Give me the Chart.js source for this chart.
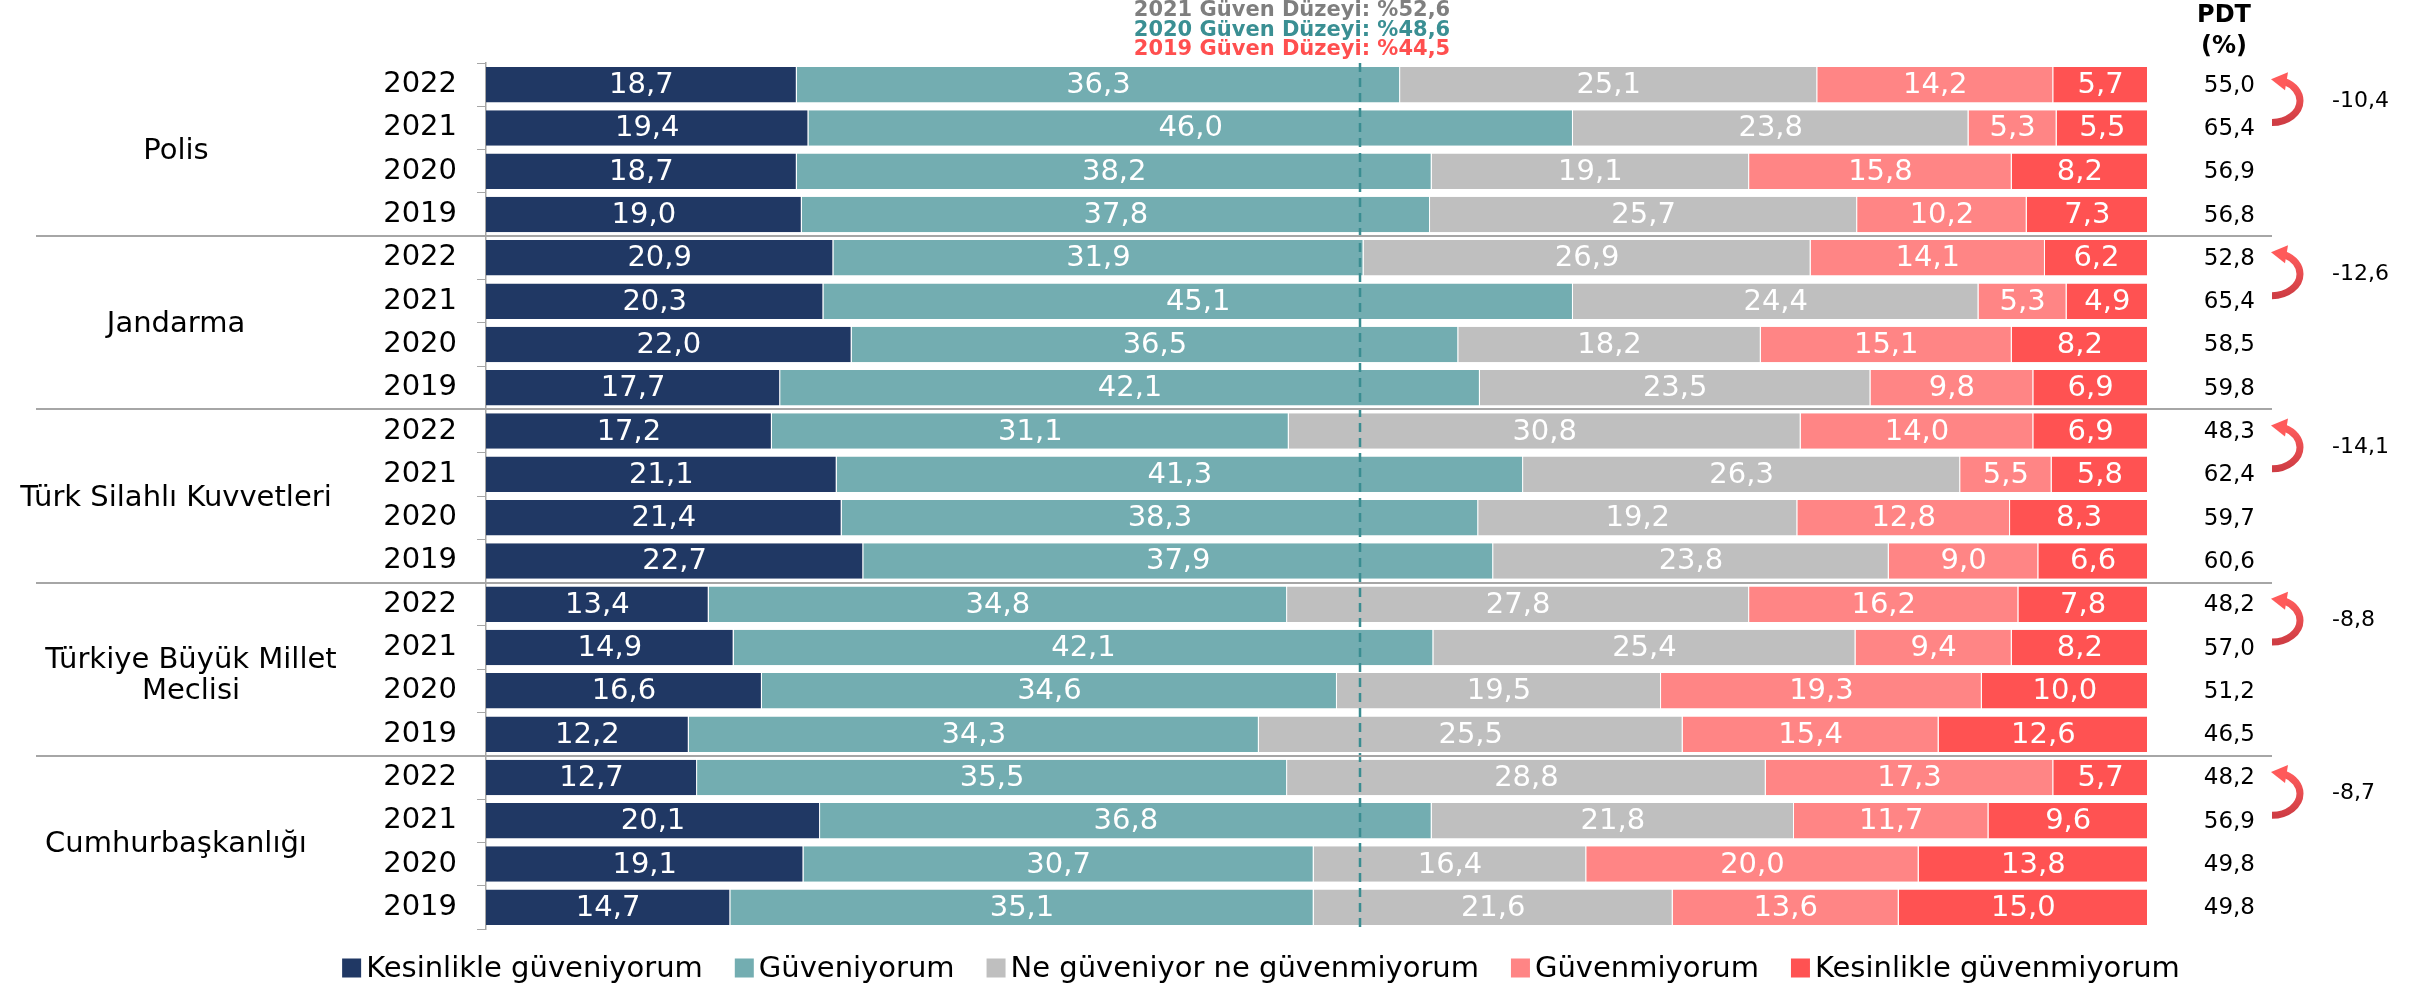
<!DOCTYPE html>
<html>
<head>
<meta charset="utf-8">
<title>Kurumlara güven</title>
<script src="https://cdn.jsdelivr.net/npm/chart.js@4.4.0/dist/chart.umd.min.js"></script>
<style>
  body { margin: 0; background: #fff; }
  #wrap { width: 2417px; height: 986px; }
</style>
</head>
<body>
<div id="wrap"><canvas id="bar-chart" width="2417" height="986"></canvas></div>
<script>
var groups = ["Polis", "Jandarma", "Türk Silahlı Kuvvetleri", ["Türkiye Büyük Millet", "Meclisi"], "Cumhurbaşkanlığı"];
var years = ["2022", "2021", "2020", "2019"];

// one value per row, top to bottom: each group 2022 -> 2019
var kesinlikleGuveniyorum = [18.7, 19.4, 18.7, 19.0, 20.9, 20.3, 22.0, 17.7, 17.2, 21.1, 21.4, 22.7, 13.4, 14.9, 16.6, 12.2, 12.7, 20.1, 19.1, 14.7];
var guveniyorum = [36.3, 46.0, 38.2, 37.8, 31.9, 45.1, 36.5, 42.1, 31.1, 41.3, 38.3, 37.9, 34.8, 42.1, 34.6, 34.3, 35.5, 36.8, 30.7, 35.1];
var neGuveniyorNeGuvenmiyorum = [25.1, 23.8, 19.1, 25.7, 26.9, 24.4, 18.2, 23.5, 30.8, 26.3, 19.2, 23.8, 27.8, 25.4, 19.5, 25.5, 28.8, 21.8, 16.4, 21.6];
var guvenmiyorum = [14.2, 5.3, 15.8, 10.2, 14.1, 5.3, 15.1, 9.8, 14.0, 5.5, 12.8, 9.0, 16.2, 9.4, 19.3, 15.4, 17.3, 11.7, 20.0, 13.6];
var kesinlikleGuvenmiyorum = [5.7, 5.5, 8.2, 7.3, 6.2, 4.9, 8.2, 6.9, 6.9, 5.8, 8.3, 6.6, 7.8, 8.2, 10.0, 12.6, 5.7, 9.6, 13.8, 15.0];

// PDT column and the 2022 vs 2021 change per group
var pdt = [55.0, 65.4, 56.9, 56.8, 52.8, 65.4, 58.5, 59.8, 48.3, 62.4, 59.7, 60.6, 48.2, 57.0, 51.2, 46.5, 48.2, 56.9, 49.8, 49.8];
var pdtChange = [-10.4, -12.6, -14.1, -8.8, -8.7];

// trust level lines in the header
var levelYears = ["2021", "2020", "2019"];
var levelValues = [52.6, 48.6, 44.5];
var levelColors = ["#7f7f7f", "#3a8f93", "#ff4f4f"];

var seriesNames = ["Kesinlikle güveniyorum", "Güveniyorum", "Ne güveniyor ne güvenmiyorum", "Güvenmiyorum", "Kesinlikle güvenmiyorum"];
var seriesColors = ["#203864", "#73adb1", "#bfbfbf", "#ff8585", "#ff5252"];
var seriesData = [kesinlikleGuveniyorum, guveniyorum, neGuveniyorNeGuvenmiyorum, guvenmiyorum, kesinlikleGuvenmiyorum];

var FONT = "'DejaVu Sans', Verdana, sans-serif";
Chart.defaults.font.family = FONT;

function fmt(v){
  return v.toFixed(1).replace(".", ",");
}

// row labels are just the years repeated for every group
var rowLabels = [];
for(var g = 0; g < groups.length; g++){
  for(var k = 0; k < years.length; k++){
    rowLabels.push(years[k]);
  }
}

var datasets = [];
for(var i = 0; i < seriesNames.length; i++){
  datasets.push({
    label: seriesNames[i],
    data: seriesData[i],
    backgroundColor: seriesColors[i],
    borderColor: "#ffffff",
    borderWidth: { top: 0, bottom: 0, left: 0, right: 1 },
    borderSkipped: false,
    barPercentage: 0.82,
    categoryPercentage: 1.0
  });
}

function rowY(chart, r){
  return chart.scales.y.getPixelForValue(r);
}

function drawArrow(ctx, top, bot){
  var mid = (top + bot) / 2, ry = (bot - top) / 2;
  var grad = ctx.createLinearGradient(0, top, 0, bot);
  grad.addColorStop(0, "#ff5c5c");
  grad.addColorStop(1, "#cf3d44");
  ctx.save();
  ctx.strokeStyle = grad;
  ctx.fillStyle = "#ff5a5a";
  ctx.lineWidth = 7;
  ctx.beginPath();
  ctx.ellipse(2272, mid, 28, ry, 0, Math.PI / 2, -1.1, true);
  ctx.stroke();
  // head pointing left
  ctx.beginPath();
  ctx.moveTo(2271, top);
  ctx.lineTo(2288, mid - ry - 7);
  ctx.lineTo(2285, mid - ry + 11);
  ctx.closePath();
  ctx.fill();
  ctx.restore();
}

var extras = {
  id: "extras",
  afterDatasetsDraw: function(chart){
    var ctx = chart.ctx, area = chart.chartArea, x = chart.scales.x;

    // dashed line at the 2021 trust level
    var lx = Math.round(x.getPixelForValue(levelValues[0]));
    ctx.save();
    ctx.strokeStyle = "#3a8d91";
    ctx.lineWidth = 2.5;
    ctx.setLineDash([9, 6]);
    ctx.beginPath();
    ctx.moveTo(lx, area.top);
    ctx.lineTo(lx, area.bottom);
    ctx.stroke();
    ctx.restore();

    // values inside the bars
    ctx.save();
    ctx.font = "29px " + FONT;
    ctx.fillStyle = "#ffffff";
    ctx.textAlign = "center";
    ctx.textBaseline = "middle";
    chart.data.datasets.forEach(function(ds, i){
      chart.getDatasetMeta(i).data.forEach(function(bar, j){
        ctx.fillText(fmt(ds.data[j]), (bar.x + bar.base) / 2, bar.y + 1);
      });
    });
    ctx.restore();
  },
  afterDraw: function(chart){
    var ctx = chart.ctx;
    var n = years.length;
    ctx.save();

    // group separators
    ctx.strokeStyle = "#a6a6a6";
    ctx.lineWidth = 2;
    for(var g = 1; g < groups.length; g++){
      var sy = Math.round((rowY(chart, g * n - 1) + rowY(chart, g * n)) / 2);
      ctx.beginPath();
      ctx.moveTo(36, sy);
      ctx.lineTo(2272, sy);
      ctx.stroke();
    }

    // group names
    ctx.fillStyle = "#000";
    ctx.font = "29px " + FONT;
    ctx.textAlign = "center";
    ctx.textBaseline = "middle";
    for(var g = 0; g < groups.length; g++){
      var gy = (rowY(chart, g * n) + rowY(chart, g * n + n - 1)) / 2;
      if(Array.isArray(groups[g])){
        ctx.fillText(groups[g][0], 191, gy - 9);
        ctx.fillText(groups[g][1], 191, gy + 22);
      } else {
        ctx.fillText(groups[g], 176, gy + 2);
      }
    }

    // header: trust levels
    ctx.font = "bold 21px " + FONT;
    var hy = [11, 30.5, 50];
    for(var i = 0; i < levelYears.length; i++){
      ctx.fillStyle = levelColors[i];
      ctx.fillText(levelYears[i] + " Güven Düzeyi: %" + fmt(levelValues[i]), 1292, hy[i]);
    }

    // PDT column
    ctx.fillStyle = "#000";
    ctx.font = "bold 24px " + FONT;
    ctx.fillText("PDT", 2224, 16);
    ctx.fillText("(%)", 2224, 47);
    ctx.font = "23px " + FONT;
    ctx.textAlign = "right";
    for(var r = 0; r < pdt.length; r++){
      ctx.fillText(fmt(pdt[r]), 2255, rowY(chart, r) + 1);
    }

    // change arrows 2021 -> 2022
    ctx.textAlign = "left";
    ctx.font = "22px " + FONT;
    for(var g = 0; g < groups.length; g++){
      var y0 = rowY(chart, g * n), y1 = rowY(chart, g * n + 1);
      drawArrow(ctx, y0 - 5.5, y1 - 5.5);
      ctx.fillStyle = "#000";
      ctx.fillText(fmt(pdtChange[g]), 2332, (y0 + y1) / 2 - 5.5);
    }

    // legend
    ctx.font = "29px " + FONT;
    var box = 19, gapText = 5, gapItem = 32;
    var widths = seriesNames.map(function(s){ return ctx.measureText(s).width; });
    var total = gapItem * (seriesNames.length - 1);
    widths.forEach(function(w){ total += box + gapText + w; });
    var lgx = 1261 - total / 2, lgy = 968;
    for(var i = 0; i < seriesNames.length; i++){
      ctx.fillStyle = seriesColors[i];
      ctx.fillRect(lgx, lgy - box / 2, box, box);
      ctx.fillStyle = "#000";
      ctx.fillText(seriesNames[i], lgx + box + gapText, lgy + 1);
      lgx += box + gapText + widths[i] + gapItem;
    }
    ctx.restore();
  }
};

new Chart(document.getElementById("bar-chart"), {
  type: "bar",
  data: {
    labels: rowLabels,
    datasets: datasets
  },
  options: {
    indexAxis: "y",
    responsive: false,
    animation: false,
    devicePixelRatio: 1,
    layout: { padding: { top: 63, right: 269, bottom: 57, left: 380 } },
    plugins: {
      legend: { display: false },
      tooltip: { enabled: false }
    },
    scales: {
      x: { stacked: true, min: 0, max: 100, display: false },
      y: {
        stacked: true,
        grid: { drawOnChartArea: false, drawTicks: true, tickLength: 9, color: "#a6a6a6", offset: true },
        border: { display: true, color: "#a6a6a6", width: 1.5 },
        ticks: { font: { size: 29 }, color: "#000", padding: 20, autoSkip: false },
        afterFit: function(s){ s.width = 106; }
      }
    }
  },
  plugins: [extras]
});
</script>
</body>
</html>
